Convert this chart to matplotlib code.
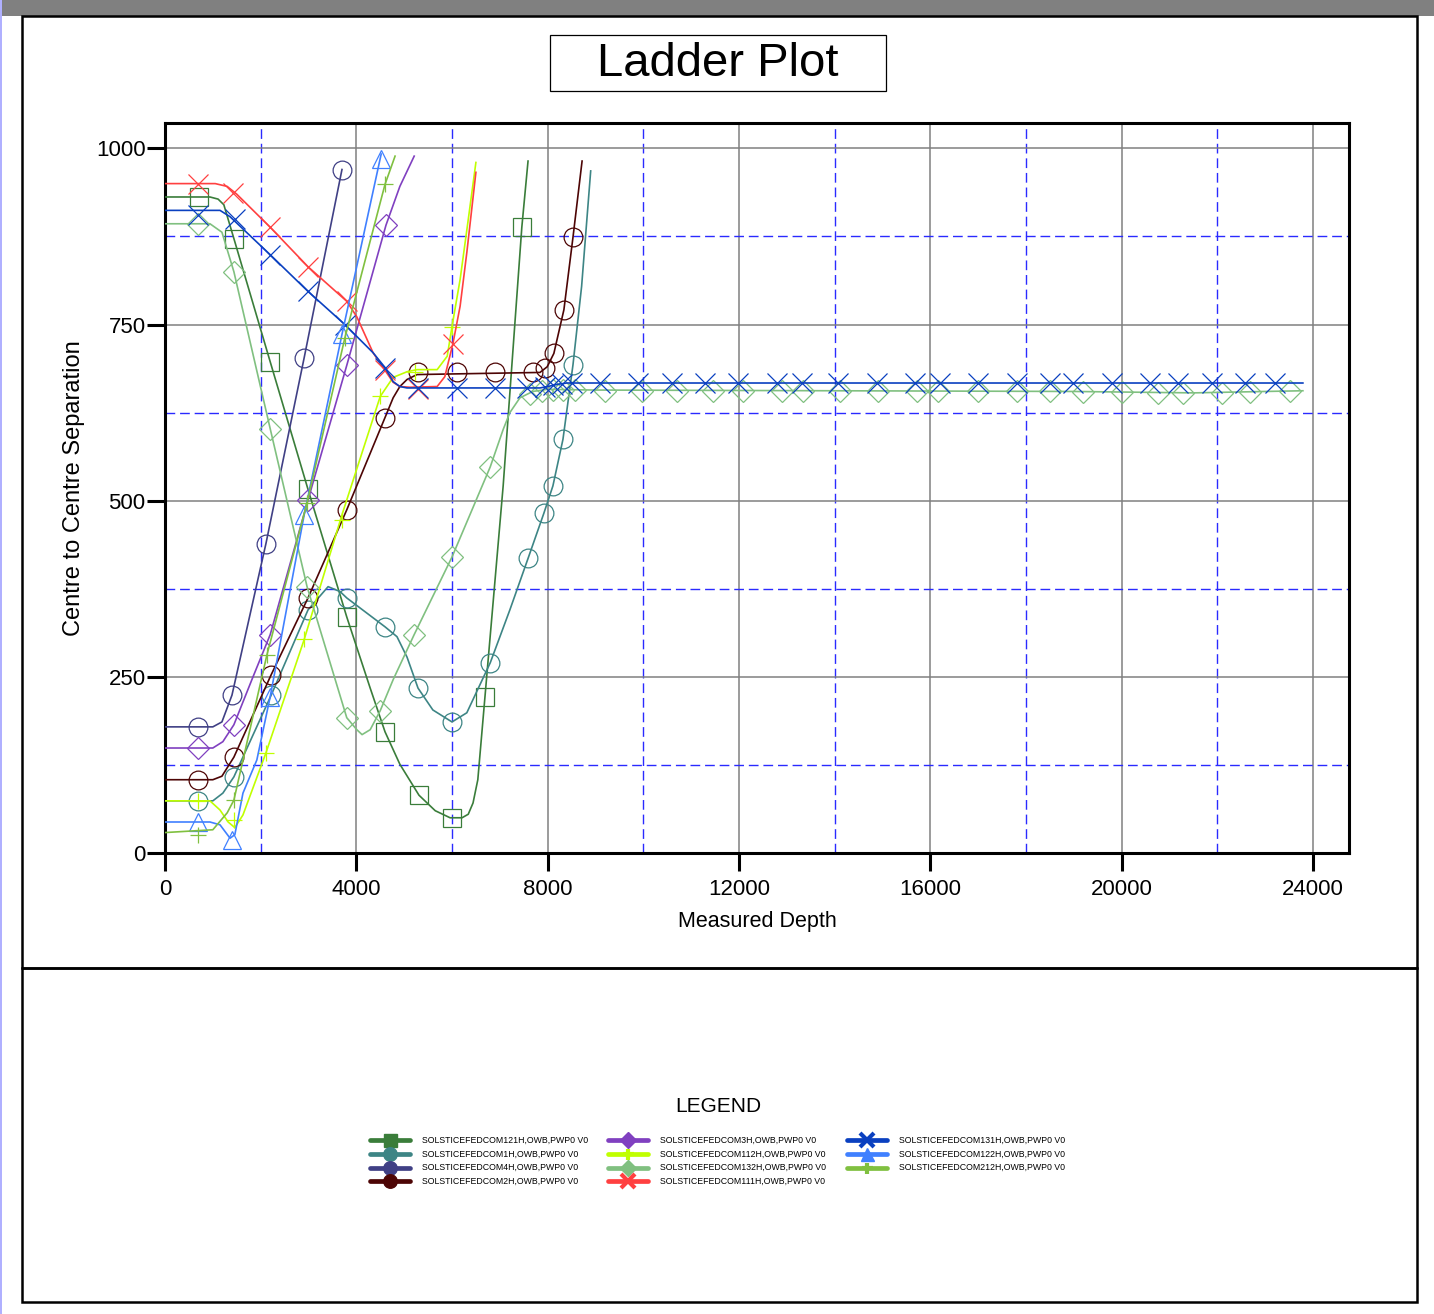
import matplotlib
matplotlib.use("Agg")
import matplotlib.pyplot as plt
from matplotlib.patches import Rectangle
from matplotlib.ticker import MultipleLocator

plt.rcParams["font.family"] = ["Liberation Sans", "DejaVu Sans"]

# ---- data (measured depth, centre-to-centre separation) ----
md_121h = [0, 940, 1110, 1230, 1440, 2200, 2990, 3800, 4290, 4600, 4910, 5310, 5650, 5960, 6210, 6340, 6440, 6540, 6690, 7070, 7460, 7590]
sep_121h = [931, 931, 928, 920, 872, 697, 516, 335, 234, 172, 126, 82, 60, 50, 50, 55, 71, 104, 222, 521, 888, 982]
mk_md_121h = [710, 1440, 2200, 2990, 3800, 4600, 5310, 5990, 6700, 7460]
mk_sep_121h = [931, 872, 697, 516, 335, 172, 82, 50, 222, 888]

md_1h = [0, 1000, 1210, 1440, 2220, 2990, 3410, 3660, 3800, 4600, 4850, 5060, 5290, 5600, 6000, 6310, 6800, 7210, 7590, 7920, 8110, 8320, 8530, 8710, 8900]
sep_1h = [74, 74, 85, 108, 224, 345, 378, 371, 362, 321, 307, 278, 234, 203, 186, 199, 270, 345, 418, 482, 521, 587, 693, 804, 968]
mk_md_1h = [700, 1440, 2220, 2990, 3800, 4600, 5290, 6000, 6800, 7590, 7920, 8110, 8320, 8530]
mk_sep_1h = [74, 108, 224, 345, 362, 321, 234, 186, 270, 418, 482, 521, 587, 693]

md_4h = [0, 1000, 1190, 1400, 2110, 2910, 3700]
sep_4h = [179, 179, 186, 224, 439, 703, 970]
mk_md_4h = [700, 1400, 2110, 2910, 3700]
mk_sep_4h = [179, 224, 439, 703, 970]

md_2h = [0, 1000, 1190, 1440, 2220, 2990, 3800, 4600, 4770, 4910, 5060, 5270, 7840, 7990, 8130, 8340, 8530, 8720]
sep_2h = [104, 104, 109, 136, 253, 362, 487, 618, 646, 662, 672, 679, 682, 690, 709, 771, 874, 982]
mk_md_2h = [700, 1440, 2220, 2990, 3800, 4600, 5290, 6100, 6900, 7690, 7950, 8130, 8340, 8530]
mk_sep_2h = [104, 136, 253, 362, 487, 618, 682, 682, 682, 682, 688, 709, 771, 874]

md_3h = [0, 1000, 1210, 1440, 1840, 2200, 2990, 3800, 4620, 4910, 5210]
sep_3h = [149, 149, 158, 182, 250, 310, 501, 692, 891, 946, 989]
mk_md_3h = [700, 1440, 2200, 2990, 3800, 4620]
mk_sep_3h = [149, 182, 310, 501, 692, 891]

md_112h = [0, 940, 1150, 1320, 1460, 1630, 2110, 2910, 3700, 4500, 4770, 5060, 5270, 5690, 5900, 6000, 6170, 6340, 6500]
sep_112h = [74, 74, 61, 44, 36, 54, 142, 303, 480, 648, 675, 683, 686, 686, 705, 747, 814, 899, 980]
mk_md_112h = [700, 1440, 2110, 2910, 3700, 4500, 5230, 6000]
mk_sep_112h = [74, 47, 142, 303, 473, 648, 683, 747]

md_132h = [0, 940, 1190, 1440, 2200, 2970, 3800, 4010, 4120, 4290, 4500, 4770, 5210, 6000, 6800, 7070, 7210, 7420, 7690, 7990, 9000, 14000, 19000, 21500, 23000, 23790]
sep_132h = [893, 893, 881, 825, 602, 378, 192, 175, 168, 175, 202, 246, 310, 420, 548, 601, 625, 646, 655, 658, 657, 656, 655, 653, 655, 656]
mk_md_132h = [700, 1440, 2200, 2970, 3800, 4500, 5210, 6000, 6800, 7630, 7880, 8110, 8320, 8570, 9200, 9970, 10700, 11460, 12080, 12900, 13340, 14110, 14910, 15720, 16160, 17000, 17810, 18500, 19190, 20010, 20760, 21280, 22100, 22680, 23520]
mk_sep_132h = [893, 825, 602, 378, 192, 202, 310, 420, 548, 652, 656, 657, 657, 657, 656, 656, 656, 656, 656, 655, 655, 655, 655, 655, 655, 655, 655, 655, 654, 654, 653, 653, 653, 654, 655]

md_111h = [0, 1050, 1300, 1500, 2200, 2990, 3800, 4010, 4350, 4770, 4910, 5120, 5690, 5850, 6020, 6170, 6310, 6500]
sep_111h = [950, 950, 946, 935, 888, 832, 783, 761, 710, 668, 662, 661, 662, 676, 723, 776, 852, 966]
mk_md_111h = [700, 1420, 2200, 2990, 3800, 4600, 5290, 6020]
mk_sep_111h = [950, 937, 888, 832, 783, 685, 658, 723]

md_131h = [0, 1150, 1360, 2200, 2990, 3760, 4350, 4600, 4770, 4910, 5060, 7840, 8000, 8200, 8400, 23790]
sep_131h = [912, 912, 903, 849, 797, 750, 710, 689, 669, 662, 660, 660, 662, 665, 667, 667]
mk_md_131h = [700, 1460, 2200, 2990, 3760, 4600, 5290, 6100, 6900, 7570, 7950, 8110, 8300, 8510, 9100, 9890, 10600, 11290, 11980, 12800, 13320, 14070, 14890, 15680, 16200, 17000, 17810, 18500, 18980, 19800, 20590, 21180, 21890, 22580, 23210]
mk_sep_131h = [906, 900, 849, 797, 750, 689, 660, 660, 660, 660, 662, 664, 666, 667, 667, 667, 667, 667, 667, 667, 667, 667, 667, 667, 667, 667, 667, 667, 667, 667, 667, 667, 667, 667, 667]

md_122h = [0, 940, 1150, 1360, 1460, 1630, 1920, 2200, 2910, 3700, 4520]
sep_122h = [44, 44, 40, 21, 26, 85, 132, 222, 480, 736, 992]
mk_md_122h = [700, 1400, 2200, 2910, 3700, 4520]
mk_sep_122h = [44, 18, 222, 480, 736, 985]

md_212h = [0, 1000, 1300, 1440, 2130, 2970, 3760, 4600, 4810]
sep_212h = [29, 33, 57, 75, 281, 497, 731, 949, 989]
mk_md_212h = [700, 1440, 2130, 2970, 3760, 4600]
mk_sep_212h = [26, 75, 281, 497, 731, 949]

wells = [
    ("SOLSTICEFEDCOM121H,OWB,PWP0 V0", md_121h, sep_121h, mk_md_121h, mk_sep_121h, "#3a7d3a", "s"),
    ("SOLSTICEFEDCOM1H,OWB,PWP0 V0", md_1h, sep_1h, mk_md_1h, mk_sep_1h, "#3d8585", "o"),
    ("SOLSTICEFEDCOM4H,OWB,PWP0 V0", md_4h, sep_4h, mk_md_4h, mk_sep_4h, "#404085", "o"),
    ("SOLSTICEFEDCOM2H,OWB,PWP0 V0", md_2h, sep_2h, mk_md_2h, mk_sep_2h, "#4d0505", "o"),
    ("SOLSTICEFEDCOM3H,OWB,PWP0 V0", md_3h, sep_3h, mk_md_3h, mk_sep_3h, "#8040c0", "D"),
    ("SOLSTICEFEDCOM112H,OWB,PWP0 V0", md_112h, sep_112h, mk_md_112h, mk_sep_112h, "#c0ff00", "+"),
    ("SOLSTICEFEDCOM132H,OWB,PWP0 V0", md_132h, sep_132h, mk_md_132h, mk_sep_132h, "#80c080", "D"),
    ("SOLSTICEFEDCOM111H,OWB,PWP0 V0", md_111h, sep_111h, mk_md_111h, mk_sep_111h, "#ff4040", "x"),
    ("SOLSTICEFEDCOM131H,OWB,PWP0 V0", md_131h, sep_131h, mk_md_131h, mk_sep_131h, "#0a40c0", "x"),
    ("SOLSTICEFEDCOM122H,OWB,PWP0 V0", md_122h, sep_122h, mk_md_122h, mk_sep_122h, "#4080ff", "^"),
    ("SOLSTICEFEDCOM212H,OWB,PWP0 V0", md_212h, sep_212h, mk_md_212h, mk_sep_212h, "#80c040", "+"),
]
marker_size = {"s": 13, "o": 13.5, "D": 11.5, "+": 11, "x": 14, "^": 13}

W, H = 1434, 1314
fig = plt.figure(figsize=(W / 100, H / 100), dpi=100)

# page furniture in pixel coordinates
bg = fig.add_axes([0, 0, 1, 1], zorder=0)
bg.set_xlim(0, W)
bg.set_ylim(H, 0)
bg.axis("off")
bg.add_patch(Rectangle((0, 0), W, 16, color="#808080", lw=0))
bg.add_patch(Rectangle((0, 0), 2, H, color="#b0b0ff", lw=0))
bg.add_patch(Rectangle((22, 16), 1395, 952, fill=False, ec="black", lw=1.8))
bg.add_patch(Rectangle((22, 968), 1395, 334, fill=False, ec="black", lw=1.8))
bg.add_patch(Rectangle((550, 35), 336, 56, fill=False, ec="black", lw=0.9))
bg.text(718, 64, "Ladder Plot", fontsize=34, ha="center", va="center")

# legend panel
bg.text(718, 1106, "LEGEND", fontsize=15, ha="center", va="center")
col_x = [370, 608, 847]
row_y = [1140, 1154, 1167.5, 1181]
for i, (label, _, _, _, _, color, mk) in enumerate(wells):
    col, row = (i // 4, i % 4)
    x0, y0 = col_x[col], row_y[row]
    bg.plot([x0, x0 + 40], [y0, y0], color=color, lw=3.4, solid_capstyle="round")
    bg.plot([x0 + 20], [y0], marker=mk, ms=marker_size[mk] * 0.72, mfc=color, mec=color,
            mew=3 if mk in "+x" else 1)
    bg.text(x0 + 52, y0, label, fontsize=6.3, va="center", ha="left")

# chart
ax = fig.add_axes([165 / W, 1 - 853 / H, (1349 - 165) / W, (853 - 123) / H], zorder=1)
for label, md, sep, mk_md, mk_sep, color, mk in wells:
    ax.plot(md, sep, color=color, lw=1.2, zorder=3)
    ax.plot(mk_md, mk_sep, ls="none", marker=mk, ms=marker_size[mk], mfc="none",
            mec=color, mew=0.9, zorder=3)

ax.set_xlim(0, 24754)
ax.set_ylim(0, 1036)
ax.xaxis.set_major_locator(MultipleLocator(4000))
ax.xaxis.set_minor_locator(MultipleLocator(2000))
ax.yaxis.set_major_locator(MultipleLocator(250))
ax.yaxis.set_minor_locator(MultipleLocator(125))
ax.grid(which="major", color="#808080", lw=1.1, zorder=1)
ax.grid(which="minor", color="#2a2aff", lw=1.0, dashes=(7, 3.5), zorder=1)
ax.tick_params(which="major", direction="out", length=13, width=2.2, labelsize=16, pad=3)
ax.tick_params(which="minor", length=0)
ax.tick_params(axis="x", pad=6)
ax.tick_params(axis="y", pad=1)
for sp in ax.spines.values():
    sp.set_linewidth(2.2)
ax.set_xlabel("Measured Depth", fontsize=15.5, labelpad=8)
ax.set_ylabel("Centre to Centre Separation", fontsize=17, labelpad=8)

fig.savefig("out.png", dpi=100)
